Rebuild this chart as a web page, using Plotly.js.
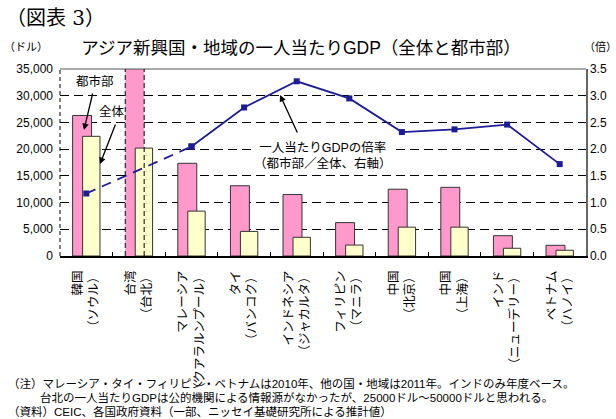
<!DOCTYPE html>
<html>
<head>
<meta charset="utf-8">
<script src="https://cdn.plot.ly/plotly-3.0.1.min.js"></script>
<style>html,body{margin:0;padding:0;background:#fff;}#chart{width:616px;height:419px;}</style>
</head>
<body>
<div id="chart"></div>
<script>
// ---- data ----
const categories = [
  '韓国<br>（ソウル）', '台湾<br>（台北）', 'マレーシア<br>（クアラルンプール）', 'タイ<br>（バンコク）',
  'インドネシア<br>（ジャカルタ）', 'フィリピン<br>（マニラ）', '中国<br>（北京）', '中国<br>（上海）',
  'インド<br>（ニューデリー）', 'ベトナム<br>（ハノイ）'
];
// 都市部 (urban) per-capita GDP, USD. Taipei: no official source, estimated 25000-50000 (drawn off-scale)
const urban = [26300, 50000, 17350, 13150, 11500, 6250, 12500, 12850, 3800, 2000];
// 全体 (whole country) per-capita GDP, USD
const total = [22400, 20200, 8400, 4600, 3500, 2050, 5400, 5400, 1450, 1070];
// 倍率 (urban / total), right axis
const ratio = [1.17, null, 2.05, 2.78, 3.27, 2.95, 2.32, 2.37, 2.46, 1.72];
const estimatedIndex = 1; // Taipei urban value is an estimate (dashed outline)
const yTicks = [0, 5000, 10000, 15000, 20000, 25000, 30000, 35000];
const y2Ticks = [0, 0.5, 1, 1.5, 2, 2.5, 3, 3.5];

// ---- styles ----
const FONT = 'Liberation Sans, Arial, "Noto Sans CJK JP", sans-serif';
const PINK = '#FF99CC', CREAM = '#FFFFCC', NAVY = '#1C1C96';
const urbanOffset = -0.26, urbanWidth = 0.36;
const totalOffset = -0.07, totalWidth = 0.33;

// dashed ratio segment: from first point to the next available one (skipping Taipei)
const firstSolid = ratio.findIndex((v, i) => i > 0 && v !== null);
const ratioDashed = ratio.map((v, i) => (i === 0 || i === firstSolid) ? v : null);
const ratioSolid = ratio.map((v, i) => i >= firstSolid ? v : null);

const traces = [
  {type: 'bar', name: '都市部', x: categories, y: urban, yaxis: 'y',
   offset: urbanOffset, width: urbanWidth,
   marker: {color: PINK,
            line: {color: urban.map((v, i) => i === estimatedIndex ? 'rgba(0,0,0,0)' : '#333'),
                   width: urban.map((v, i) => i === estimatedIndex ? 0 : 1)}},
   hoverinfo: 'y'},
  {type: 'bar', name: '全体', x: categories, y: total, yaxis: 'y',
   offset: totalOffset, width: totalWidth,
   marker: {color: CREAM, line: {color: '#333', width: 1}}, hoverinfo: 'y'},
  {type: 'scatter', mode: 'lines+markers', x: categories, y: ratioDashed, yaxis: 'y2',
   connectgaps: true, line: {color: NAVY, width: 1.8, dash: '10px,7px'},
   marker: {symbol: 'square', size: 6, color: NAVY}},
  {type: 'scatter', mode: 'lines+markers', x: categories, y: ratioSolid, yaxis: 'y2',
   line: {color: NAVY, width: 1.8}, marker: {symbol: 'square', size: 6, color: NAVY}}
];

const shapes = [
  // dashed left border of plot area
  {type: 'line', xref: 'paper', yref: 'paper', x0: 0, x1: 0, y0: 0, y1: 1,
   line: {color: '#000', width: 1, dash: '4px,3px'}},
  // top border
  {type: 'line', xref: 'paper', yref: 'paper', x0: 0, x1: 1, y0: 1, y1: 1,
   line: {color: '#555', width: 1}},
  // dashed outline of estimated Taipei urban bar
  {type: 'line', xref: 'x', yref: 'paper', x0: estimatedIndex + urbanOffset, x1: estimatedIndex + urbanOffset,
   y0: 0, y1: 1, line: {color: '#000', width: 1, dash: '5px,3px'}},
  {type: 'line', xref: 'x', yref: 'paper', x0: estimatedIndex + urbanOffset + urbanWidth, x1: estimatedIndex + urbanOffset + urbanWidth,
   y0: 0, y1: 1, line: {color: '#000', width: 1, dash: '5px,3px'}}
];

const plotTop = 69, plotBottom = 256;
const py = (pix) => (plotBottom - pix) / (plotBottom - plotTop); // paper y from pixel y
const px = (pix) => (pix - 60) / 526; // paper x from pixel x

const annotations = [
  {xref: 'paper', yref: 'paper', x: 0.0, y: py(47), xanchor: 'right', yanchor: 'middle', xshift: -10,
   text: '（ドル）', showarrow: false, font: {size: 11}},
  {xref: 'paper', yref: 'paper', x: 1.0, y: py(47), xanchor: 'left', yanchor: 'middle', xshift: -4,
   text: '（倍）', showarrow: false, font: {size: 11}},
  {xref: 'paper', yref: 'paper', x: px(95), y: py(82), text: '都市部', showarrow: false,
   font: {size: 12.5}, xanchor: 'center', yanchor: 'middle'},
  {xref: 'paper', yref: 'paper', x: px(112), y: py(112), text: '全体', showarrow: false,
   font: {size: 12.5}, xanchor: 'center', yanchor: 'middle'},
  {xref: 'paper', yref: 'paper', text: '一人当たりGDPの倍率<br>（都市部／全体、右軸）', showarrow: false,
   x: px(323), y: py(155), xanchor: 'center', yanchor: 'middle', bgcolor: '#fff',
   font: {size: 12.5}, align: 'center'}
];

// arrows: target point and start point in pixels
const arrowSpecs = [
  {tx: 84, ty: 130, sx: 93, sy: 92},
  {tx: 100, ty: 164, sx: 116, sy: 123},
  {tx: 280, ty: 95, sx: 298, sy: 134}
];
arrowSpecs.forEach(a => {
  annotations.push({xref: 'paper', yref: 'paper', x: px(a.tx), y: py(a.ty),
    ax: a.sx - a.tx, ay: a.sy - a.ty, showarrow: true, arrowhead: 2, arrowsize: 1,
    arrowwidth: 1.3, arrowcolor: '#000', text: ''});
});

const notes = [
  {t: '（注）マレーシア・タイ・フィリピン・ベトナムは2010年、他の国・地域は2011年。インドのみ年度ベース。', x: 6, y: 383},
  {t: '台北の一人当たりGDPは公的機関による情報源がなかったが、25000ドル～50000ドルと思われる。', x: 38, y: 397},
  {t: '（資料）CEIC、各国政府資料（一部、ニッセイ基礎研究所による推計値）', x: 6, y: 411}
];
notes.forEach(n => annotations.push({xref: 'paper', yref: 'paper', x: px(n.x), y: py(n.y),
  xanchor: 'left', yanchor: 'middle', text: n.t, showarrow: false, font: {size: 11.5}}));

annotations.push({xref: 'paper', yref: 'paper', x: px(4), y: py(18), xanchor: 'left', yanchor: 'middle',
  text: '（図表 3）', showarrow: false, font: {size: 20, family: '"DejaVu Serif", "Noto Sans CJK JP", serif'}});

const layout = {
  width: 616, height: 419,
  margin: {l: 60, r: 30, t: plotTop, b: 419 - plotBottom, pad: 0},
  paper_bgcolor: '#fff', plot_bgcolor: '#fff',
  font: {family: FONT, size: 12, color: '#000'},
  showlegend: false,
  barmode: 'overlay',
  title: {text: 'アジア新興国・地域の一人当たりGDP（全体と都市部）', x: 301 / 616, xanchor: 'center',
          y: 1 - 48 / 419, yanchor: 'middle', font: {size: 17.5, family: FONT}},
  xaxis: {type: 'category', tickangle: -90, tickson: 'boundaries', ticks: 'inside', ticklen: 4,
          tickcolor: '#000', showline: true, linecolor: '#000', linewidth: 1.5, showgrid: false,
          tickfont: {size: 12.5}, range: [-0.5, categories.length - 0.5], fixedrange: true,
          ticklabelstandoff: 8},
  yaxis: {range: [0, 35000], tickvals: yTicks, tickformat: ',', showgrid: true, gridcolor: '#000',
          griddash: '9px,5px', gridwidth: 1, showline: false, ticks: 'inside', ticklen: 4,
          tickcolor: '#000', zeroline: false, tickfont: {size: 12}, ticklabelstandoff: 6},
  yaxis2: {overlaying: 'y', side: 'right', range: [0, 3.5], tickvals: y2Ticks, tickformat: '.1f',
           showgrid: false, showline: true, linecolor: '#666', linewidth: 1.5, ticks: 'inside', ticklen: 4,
           tickcolor: '#000', zeroline: false, tickfont: {size: 12}},
  shapes: shapes,
  annotations: annotations
};

Plotly.newPlot('chart', traces, layout, {staticPlot: true, displayModeBar: false});
</script>
</body>
</html>
